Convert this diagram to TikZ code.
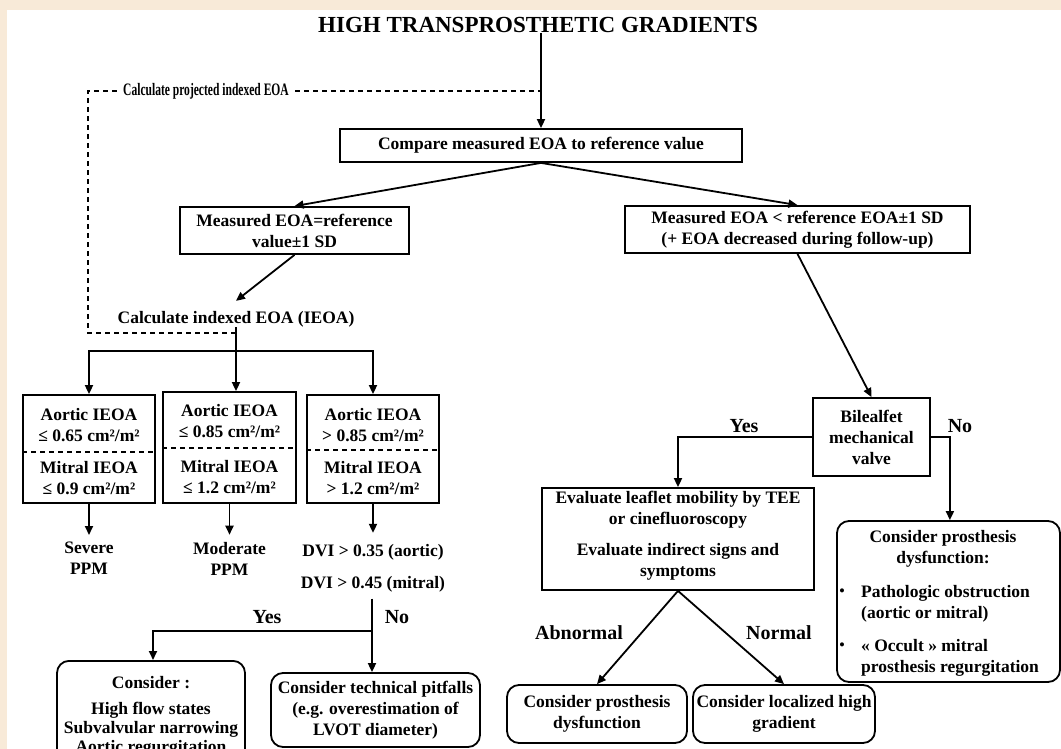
\documentclass[tikz,border=0pt]{standalone}
\usepackage{fontspec}
\usepackage{graphicx}
\setmainfont{Liberation Serif}
\usetikzlibrary{arrows.meta}
\newcommand\bodyf{\fontsize{17.5}{21}\selectfont\bfseries}
\newcommand\lblf{\fontsize{20}{24}\selectfont\bfseries}
\newcommand\ttlf{\fontsize{23}{27}\selectfont\bfseries}
\definecolor{cream}{RGB}{248,234,216}
\begin{document}
\begin{tikzpicture}[x=1pt,y=-1pt,
  box/.style={draw, line width=1.8pt, inner sep=0pt, align=center, font=\bodyf},
  rbox/.style={box, rounded corners=12pt},
  txt/.style={inner sep=0pt, align=center, font=\bodyf},
  lbl/.style={inner sep=0pt, font=\lblf},
  arr/.style={line width=1.8pt, -{Triangle[length=9pt,width=8pt]}},
  ln/.style={line width=1.8pt},
  dsh/.style={line width=1.4pt, dash pattern=on 5pt off 4pt},
]
\useasboundingbox (0,0) rectangle (1061,749);
\clip (0,0) rectangle (1061,749);
\fill[white] (0,0) rectangle (1061,749);
\fill[cream] (0,0) rectangle (1061,10);
\fill[cream] (0,0) rectangle (7,749);

% title and top
\node[inner sep=0pt, font=\ttlf] (title) at (538,25) {HIGH TRANSPROSTHETIC GRADIENTS};
\node[box, minimum width=402pt, minimum height=33pt] (cmp) at (541,145.5) {Compare measured EOA to reference value};
\draw[arr] (title.south -| cmp.north) -- (cmp.north);

\node[txt] (proj) at (206,91) {\scalebox{0.66}[1]{\fontsize{17.5}{21}\selectfont\bfseries Calculate projected indexed EOA}};

\node[box, minimum width=229pt, minimum height=47pt] (ml) at (294.5,230.5) {Measured EOA=reference\\value±1 SD};
\node[box, minimum width=345pt, minimum height=47pt] (mr) at (797.5,229.5) {Measured EOA < reference EOA±1 SD\\(+ EOA decreased during follow-up)};
\draw[arr] (cmp.south) -- (ml.north);
\draw[arr] (cmp.south) -- (mr.north);

\node[txt] (calc) at (236,319) {Calculate indexed EOA (IEOA)};
\draw[arr] (ml.south) -- ([yshift=10pt]calc.north);

% IEOA boxes
\node[box, minimum width=132pt, minimum height=108pt] (A) at (89,449) {};
\node[txt] (A1) at (89,425) {Aortic IEOA\\≤ 0.65 cm²/m²};
\node[txt] (A2) at (89,478) {Mitral IEOA\\≤ 0.9 cm²/m²};
\draw[dsh] ([yshift=-3pt]A.west) -- ([yshift=-3pt]A.east);

\node[box, minimum width=133pt, minimum height=111pt] (B) at (229.5,447.5) {};
\node[txt] (B1) at (229.5,421.5) {Aortic IEOA\\≤ 0.85 cm²/m²};
\node[txt] (B2) at (229.5,477) {Mitral IEOA\\≤ 1.2 cm²/m²};
\draw[dsh] ([yshift=-0.5pt]B.west) -- ([yshift=-0.5pt]B.east);

\node[box, minimum width=132pt, minimum height=108pt] (C) at (373,449) {};
\node[txt] (C1) at (373,425) {Aortic IEOA\\> 0.85 cm²/m²};
\node[txt] (C2) at (373,478) {Mitral IEOA\\> 1.2 cm²/m²};
\draw[dsh] ([yshift=-1pt]C.west) -- ([yshift=-1pt]C.east);

\coordinate (j) at (236,351);
\coordinate (dc) at (236,333);
\draw[ln] (calc.south) -- (j);
\draw[arr] (j) -| (A.north);
\draw[arr] (j) -| (C.north);
\draw[arr] (j) -- (j |- B.north);

\draw[dsh] ([xshift=6pt]proj.east) -- (cmp.north |- proj);
\draw[dsh] ([xshift=-6pt]proj.west) -- (88,91) -- (88,333) -- (dc);

% outcomes
\node[txt] (sev) at (89,558.5) {Severe\\PPM};
\node[txt] (mod) at (229.5,558.5) {Moderate\\PPM};
\node[txt] (dvi1) at (373,552) {DVI > 0.35 (aortic)};
\node[txt] (dvi2) at (373,584.5) {DVI > 0.45 (mitral)};
\draw[arr] (A.south) -- ([yshift=7pt]sev.north);
\draw[arr] (B.south) -- ([yshift=7pt]mod.north);
\draw[arr] (C.south) -- ([yshift=11pt]dvi1.north);

\coordinate (k) at (372,631);
\node[rbox, minimum width=209pt, minimum height=74pt] (tech) at (375.5,710) {Consider technical pitfalls\\(e.g. overestimation of\\LVOT diameter)};
\node[rbox, minimum width=188pt, minimum height=115pt, anchor=north] (cons) at (151,660) {};
\node[txt] (cons1) at (151,683) {Consider :};
\node[txt, font=\fontsize{17.5}{19}\selectfont\bfseries] (cons2) at (151,729) {High flow states\\Subvalvular narrowing\\Aortic regurgitation};
\draw[ln] ([yshift=-6pt]dvi2.south -| k) -- (k);
\draw[arr] (k) -- (k |- tech.north);
\draw[arr] (k) -| ([xshift=2pt]cons.north);
\node[lbl] (yes1) at (267,617) {Yes};
\node[lbl] (no1) at (397,617) {No};

% right branch
\node[box, minimum width=117pt, minimum height=78pt] (bil) at (871.5,437) {Bilealfet\\mechanical\\valve};
\draw[arr] (mr.south) -- (bil.north);
\node[box, minimum width=272pt, minimum height=102pt] (ev) at (678,539) {};
\node[txt] (ev1) at (678,509.5) {Evaluate leaflet mobility by TEE\\or cinefluoroscopy};
\node[txt] (ev2) at (678,561.5) {Evaluate indirect signs and\\symptoms};
\draw[arr] (bil.west) -| (ev.north);
\node[lbl] (yes2) at (744,426) {Yes};

\node[rbox, minimum width=223pt, minimum height=161pt] (rb) at (948.5,601.5) {};
\draw[arr] (bil.east) -- ++(19,0) coordinate (nb) -- (nb |- rb.north);
\node[lbl] (no2) at (960,426) {No};
\node[txt] (rb1) at (943,549) {Consider prosthesis\\dysfunction:};
\node[txt, align=left, anchor=west] (rb2) at (861,603.5) {Pathologic obstruction\\(aortic or mitral)};
\node[txt, align=left, anchor=west] (rb3) at (861,658) {« Occult » mitral\\prosthesis regurgitation};
\node[txt, font=\fontsize{17}{19}\selectfont] (bu1) at (842,593) {•};
\node[txt, font=\fontsize{17}{19}\selectfont] (bu2) at (842,647) {•};

\node[rbox, minimum width=180pt, minimum height=58pt] (pd) at (597,714) {Consider prosthesis\\dysfunction};
\node[rbox, minimum width=182pt, minimum height=58pt] (lh) at (784,714) {Consider localized high\\gradient};
\draw[arr] (ev.south) -- (pd.north);
\draw[arr] (ev.south) -- (lh.north);
\node[lbl] (abn) at (579,633) {Abnormal};
\node[lbl] (nor) at (779,633) {Normal};
\end{tikzpicture}
\end{document}
